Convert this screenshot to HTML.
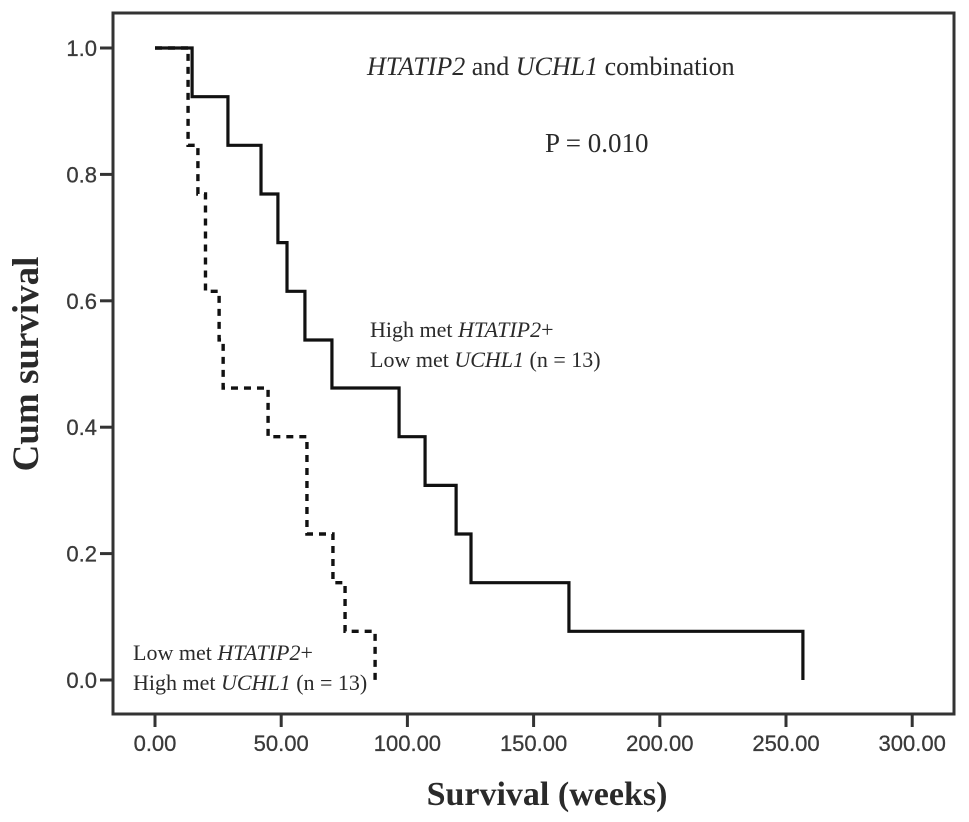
<!DOCTYPE html>
<html><head><meta charset="utf-8"><style>
html,body{margin:0;padding:0;background:#fff;}
svg{display:block;}
.serif{font-family:"Liberation Serif",serif;fill:#2a2a2a;}
.tick{font-family:"Liberation Sans",sans-serif;fill:#3a3a3a;font-size:22px;stroke:#3a3a3a;stroke-width:0.3;}
</style></head><body>
<svg id="chart" width="969" height="822" viewBox="0 0 969 822" xmlns="http://www.w3.org/2000/svg">
<rect x="113" y="13" width="841" height="701" fill="none" stroke="#333" stroke-width="3"/>
<g id="axes"></g>
<g id="series"></g>
<text class="serif" x="367" y="75" font-size="26"><tspan font-style="italic">HTATIP2</tspan> and <tspan font-style="italic">UCHL1</tspan> combination</text>
<text class="serif" x="545" y="152" font-size="27">P = 0.010</text>
<text class="serif" x="370" y="337" font-size="22">High met <tspan font-style="italic">HTATIP2</tspan>+</text>
<text class="serif" x="370" y="367" font-size="22">Low met <tspan font-style="italic">UCHL1</tspan>  (n = 13)</text>
<text class="serif" x="133" y="660" font-size="22">Low met <tspan font-style="italic">HTATIP2</tspan>+</text>
<text class="serif" x="133" y="690" font-size="22">High met <tspan font-style="italic">UCHL1</tspan> (n = 13)</text>
<text class="serif" x="547" y="805" font-size="34" font-weight="bold" text-anchor="middle" fill="#111">Survival (weeks)</text>
<text class="serif" x="0" y="0" font-size="37" font-weight="bold" text-anchor="middle" fill="#111" transform="translate(38,364) rotate(-90)">Cum survival</text>
</svg>
<script>
const xTicks = [0, 50, 100, 150, 200, 250, 300];
const xTickLabels = ["0.00", "50.00", "100.00", "150.00", "200.00", "250.00", "300.00"];
const yTicks = [0, 0.2, 0.4, 0.6, 0.8, 1.0];
const yTickLabels = ["0.0", "0.2", "0.4", "0.6", "0.8", "1.0"];
const highTimes = [0, 14.7, 28.9, 42, 48.7, 52.3, 59.4, 70.1, 96.7, 107, 119.3, 125.2, 164, 256.7];
const highSurv = [1.0, 0.923, 0.846, 0.769, 0.692, 0.615, 0.538, 0.462, 0.385, 0.308, 0.231, 0.154, 0.077, 0.0];
const lowTimes = [0, 13.1, 17, 20, 25.4, 27, 44.8, 60.2, 70.5, 75.3, 87.2];
const lowSurv = [1.0, 0.846, 0.769, 0.615, 0.538, 0.462, 0.385, 0.231, 0.154, 0.077, 0.0];

const NS = "http://www.w3.org/2000/svg";
const xs = t => 155 + t * (126.2 / 50);
const ys = v => 680 - v * 632;
const axes = document.getElementById('axes');
const series = document.getElementById('series');
function mk(tag, attrs, parent) {
  const e = document.createElementNS(NS, tag);
  for (const k in attrs) e.setAttribute(k, attrs[k]);
  parent.appendChild(e);
  return e;
}
xTicks.forEach((t, i) => {
  const l = mk('line', {x1: xs(t), x2: xs(t), y1: 714, y2: 727, stroke: '#333', 'stroke-width': 3}, axes);
  
  
  const tx = mk('text', {x: xs(t), y: 751, 'text-anchor': 'middle', class: 'tick'}, axes);
  tx.textContent = xTickLabels[i];
  
  
});
yTicks.forEach((v, i) => {
  const l = mk('line', {x1: 100, x2: 113, y1: ys(v), y2: ys(v), stroke: '#333', 'stroke-width': 3}, axes);
  
  
  const tx = mk('text', {x: 97, y: ys(v) + 8, 'text-anchor': 'end', class: 'tick'}, axes);
  tx.textContent = yTickLabels[i];
  
  
});
function stepPath(times, surv) {
  let d = 'M' + xs(times[0]) + ' ' + ys(surv[0]);
  for (let i = 1; i < times.length; i++) {
    d += ' H' + xs(times[i]) + ' V' + ys(surv[i]);
  }
  return d;
}
const pHigh = mk('path', {d: stepPath(highTimes, highSurv), fill: 'none', stroke: '#111', 'stroke-width': 3.2}, series);


const pLow = mk('path', {d: stepPath(lowTimes, lowSurv), fill: 'none', stroke: '#111', 'stroke-width': 3.4, 'stroke-dasharray': '7 6'}, series);


</script>
</body></html>
